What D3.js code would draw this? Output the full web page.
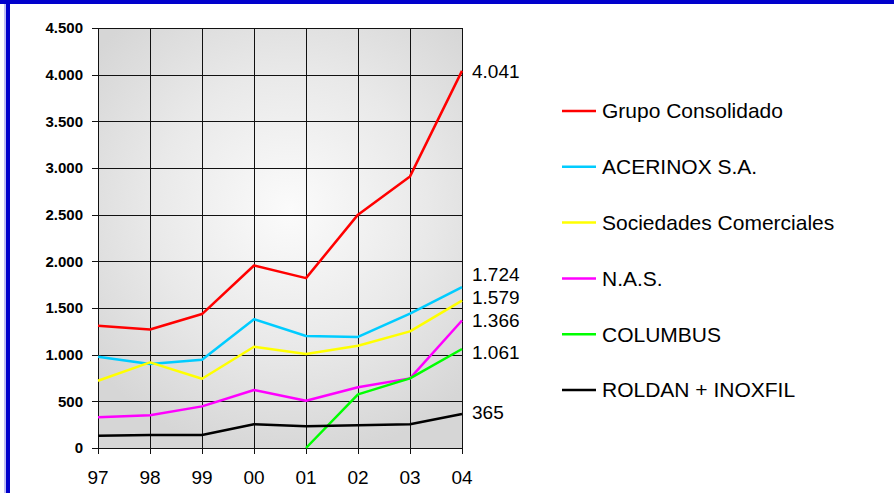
<!DOCTYPE html>
<html><head><meta charset="utf-8">
<script src="https://cdn.jsdelivr.net/npm/d3@7"></script>
<style>body{margin:0;background:#fff}svg{display:block}text{font-family:"Liberation Sans",Arial,sans-serif}</style>
</head><body>
<script>
const years = ["97","98","99","00","01","02","03","04"];
const seriesNames = ["Grupo Consolidado","ACERINOX S.A.","Sociedades Comerciales","N.A.S.","COLUMBUS","ROLDAN + INOXFIL"];
const grupo      = [1310,1270,1435,1955,1820,2500,2910,4041];
const acerinox   = [978,900,945,1380,1200,1190,1440,1724];
const sociedades = [720,917,742,1085,1008,1095,1250,1579];
const nas        = [330,350,446,621,506,650,746,1366];
const columbus   = [null,null,null,null,0,575,746,1061];
const roldan     = [132,139,140,254,232,243,254,365];
const endLabels  = ["4.041","1.724","1.579","1.366","1.061","365"];
const yTicks     = [0,500,1000,1500,2000,2500,3000,3500,4000,4500];

const colors = ["#ff0000","#00ccff","#ffff00","#ff00ff","#00ff00","#000000"];
const labelDy = [1,-13,-3,0,3,-2];
const values = [grupo,acerinox,sociedades,nas,columbus,roldan];

const W=894,H=493;
const svg=d3.select("body").append("svg").attr("width",W).attr("height",H);
const L=98,R=462,T=28,B=448;
const x=d3.scalePoint().domain(years).range([L,R]);
const y=d3.scaleLinear().domain([0,4500]).range([B,T]);

const defs=svg.append("defs");
const g=defs.append("radialGradient").attr("id","bg").attr("gradientUnits","userSpaceOnUse")
  .attr("cx",290).attr("cy",210).attr("r",250);
g.append("stop").attr("offset","0").attr("stop-color","#fbfbfb");
g.append("stop").attr("offset","0.55").attr("stop-color","#e9e9e9");
g.append("stop").attr("offset","1").attr("stop-color","#d6d6d6");

// border
svg.append("rect").attr("x",0).attr("y",0).attr("width",W).attr("height",4).attr("fill","#0000cc");
svg.append("rect").attr("x",6).attr("y",0).attr("width",4).attr("height",H).attr("fill","#0000cc");
svg.append("rect").attr("x",4).attr("y",4).attr("width",2).attr("height",H).attr("fill","#8080e6").attr("opacity",0.5);

svg.append("rect").attr("x",L).attr("y",T).attr("width",R-L).attr("height",B-T).attr("fill","url(#bg)");

// grid
svg.append("g").selectAll("line").data(yTicks).join("line")
  .attr("x1",L-6).attr("x2",R).attr("y1",d=>Math.round(y(d))+0.5).attr("y2",d=>Math.round(y(d))+0.5)
  .attr("stroke","#111").attr("stroke-width",1);
svg.append("g").selectAll("line").data(years).join("line")
  .attr("x1",d=>Math.round(x(d))+0.5).attr("x2",d=>Math.round(x(d))+0.5).attr("y1",T).attr("y2",B+6)
  .attr("stroke","#111").attr("stroke-width",1);

// y labels
svg.append("g").selectAll("text").data(yTicks).join("text")
  .attr("x",83).attr("y",d=>y(d)).attr("dy","0.35em").attr("text-anchor","end")
  .attr("font-size",15).attr("font-weight","bold").attr("fill","#000")
  .text(d=>d3.format(",")(d).replace(/,/g,"."));
// x labels
svg.append("g").selectAll("text").data(years).join("text")
  .attr("x",d=>x(d)).attr("y",484).attr("text-anchor","middle")
  .attr("font-size",19).attr("fill","#000").text(d=>d);

// lines
const line=d3.line().defined(d=>d[1]!=null).x(d=>x(d[0])).y(d=>y(d[1]));
values.forEach((vals,i)=>{
  svg.append("path").datum(years.map((yr,j)=>[yr,vals[j]]))
    .attr("d",line).attr("fill","none").attr("stroke",colors[i]).attr("stroke-width",2.5)
    .attr("stroke-linejoin","round");
  svg.append("text").attr("x",472).attr("y",y(vals[vals.length-1])+labelDy[i]).attr("dy","0.35em")
    .attr("font-size",19).attr("fill","#000").text(endLabels[i]);
});

// legend
const lg=svg.append("g");
seriesNames.forEach((n,i)=>{
  const ly=111+i*55.8;
  lg.append("line").attr("x1",562).attr("x2",596).attr("y1",ly).attr("y2",ly).attr("stroke",colors[i]).attr("stroke-width",2.5);
  lg.append("text").attr("x",602).attr("y",ly).attr("dy","0.35em").attr("font-size",21).attr("fill","#000").text(n);
});
</script>
</body></html>
